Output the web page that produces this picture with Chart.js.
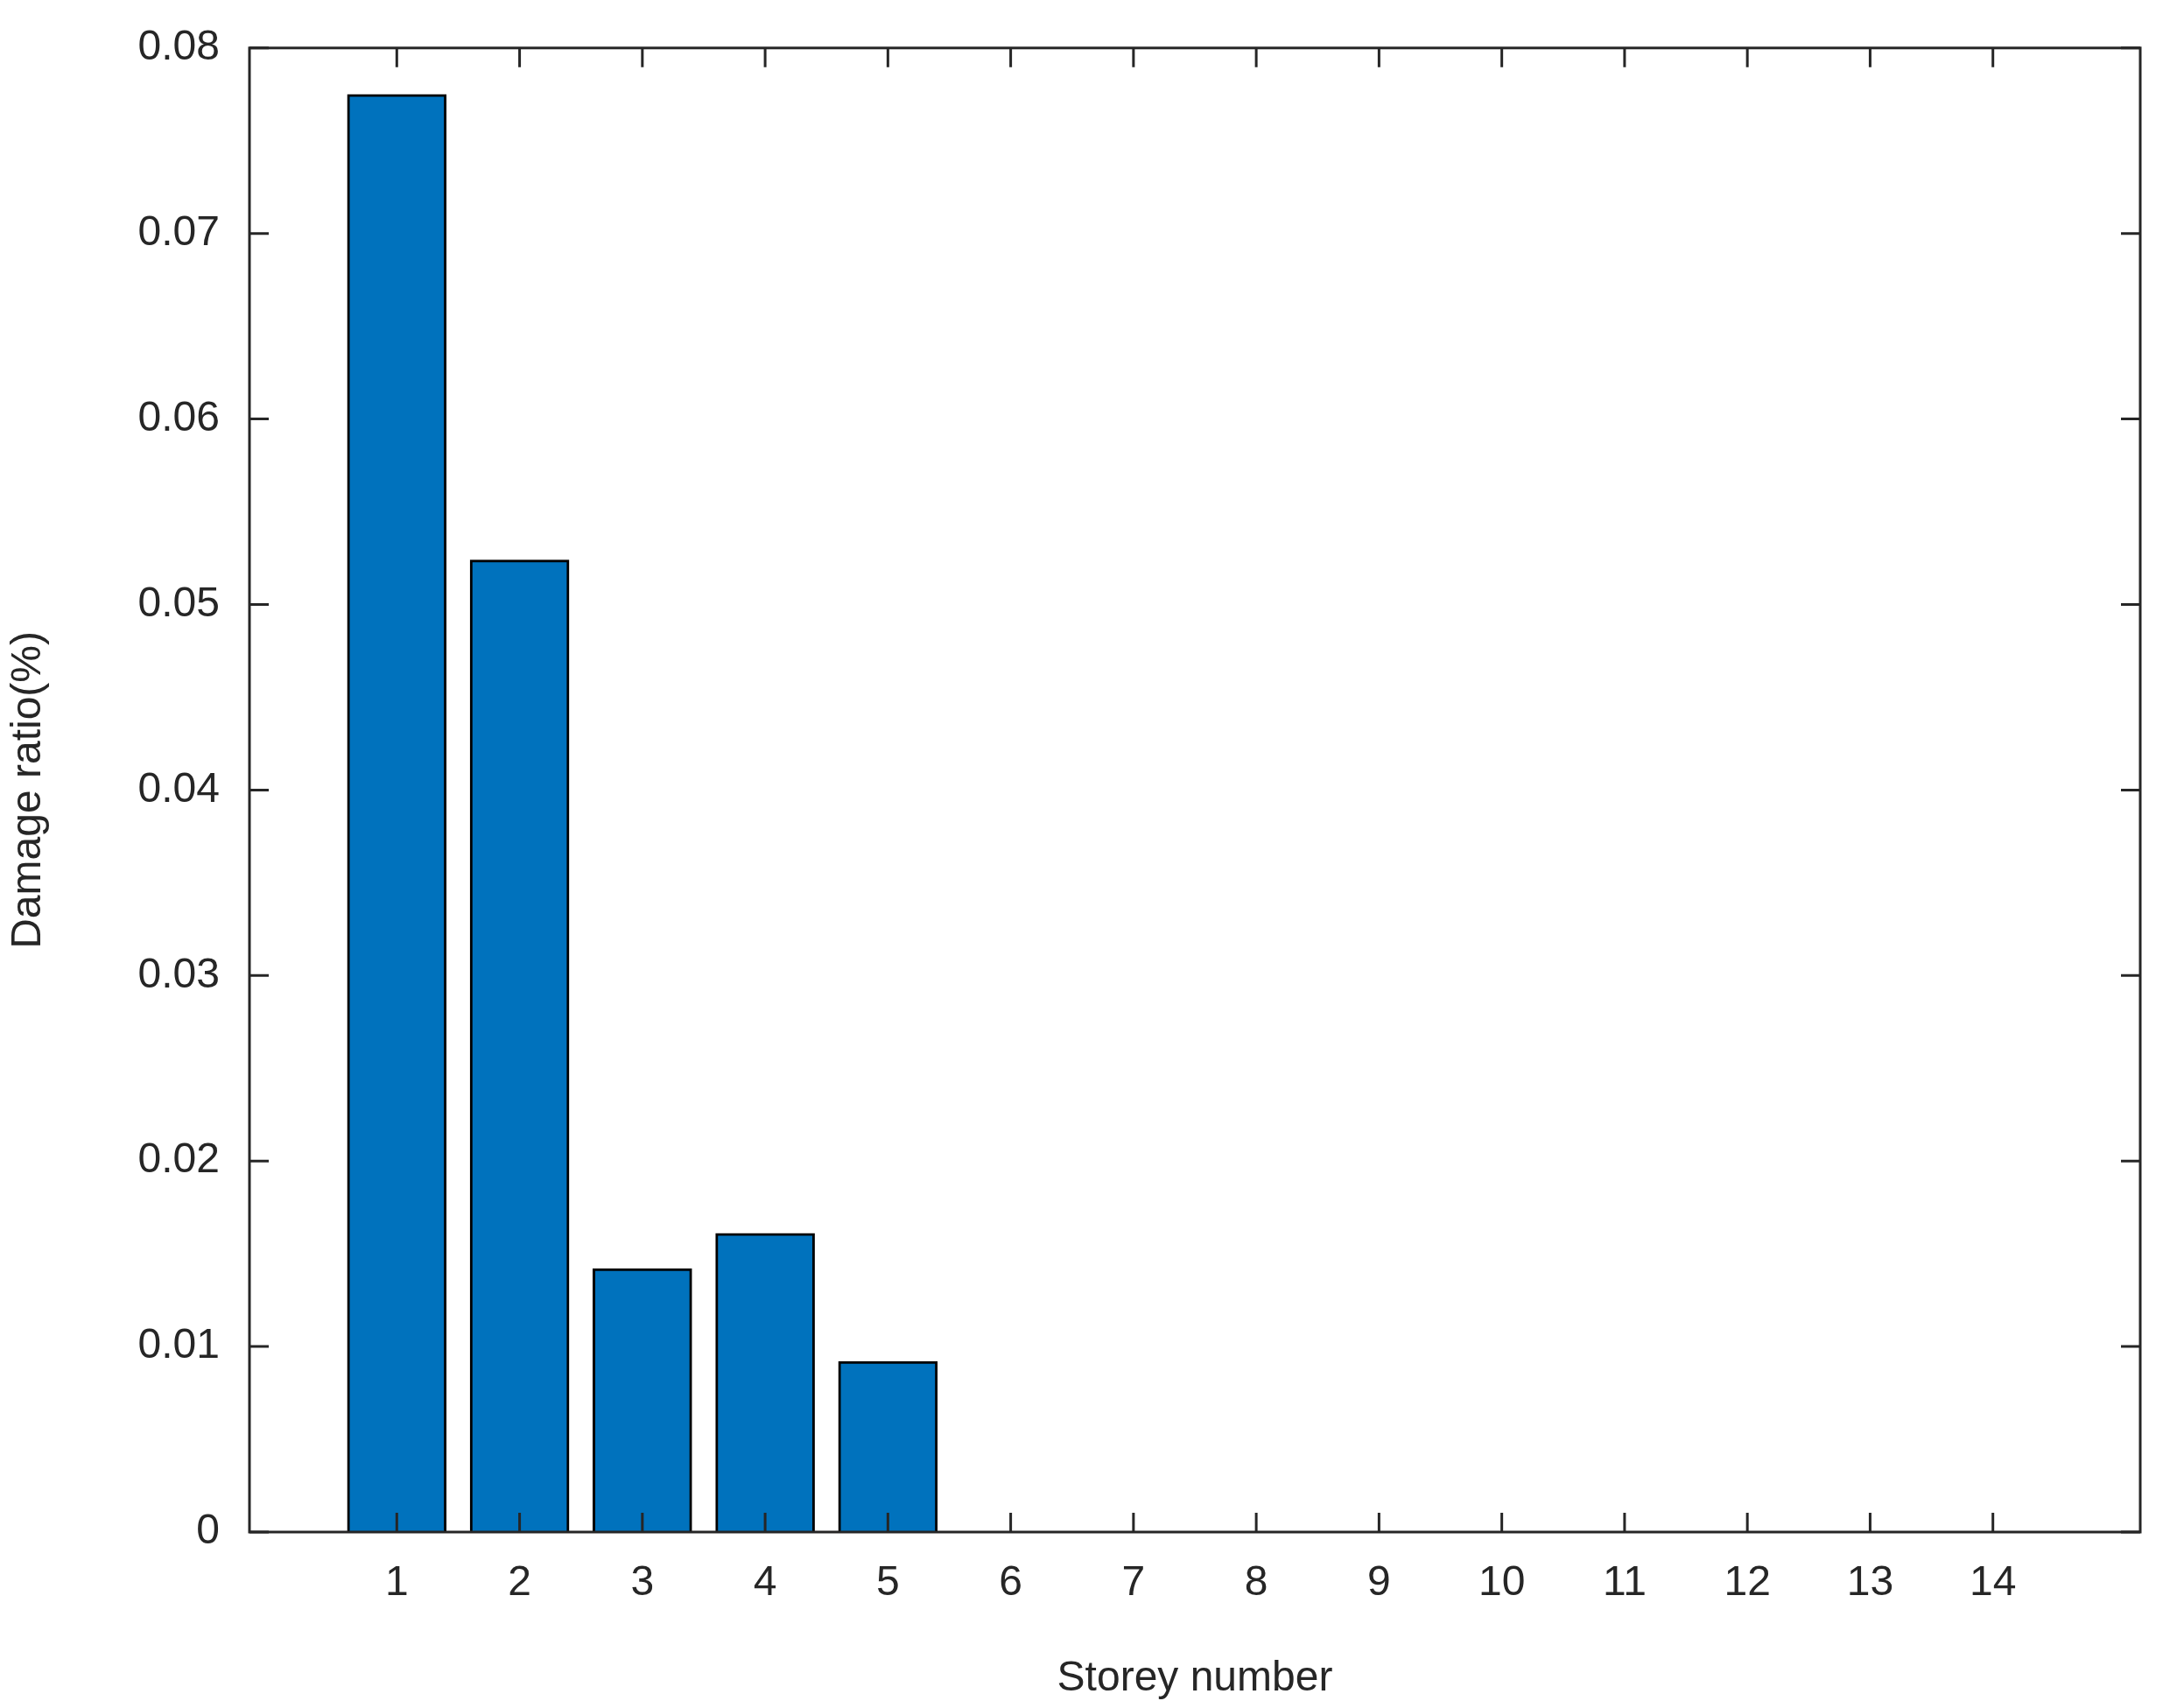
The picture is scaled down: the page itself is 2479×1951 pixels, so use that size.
<!DOCTYPE html>
<html><head><meta charset="utf-8">
<script src="https://cdn.jsdelivr.net/npm/chart.js@4"></script>
<style>html,body{margin:0;background:#fff}#wrap{width:2479px;height:1951px}</style>
</head><body><div id="wrap"><canvas id="myChart"></canvas></div>
<script>
const storeys = [1,2,3,4,5,6,7,8,9,10,11,12,13,14];
const damageRatio = [0.0775,0.0524,0.0142,0.0161,0.0092,0,0,0,0,0,0,0,0,0];
const yTicks = [0,0.01,0.02,0.03,0.04,0.05,0.06,0.07,0.08];

// MATLAB style box with inward ticks on all sides
const boxTicks = {
    id: 'boxTicks',
    afterDraw(chart) {
        const c = chart.ctx, a = chart.chartArea, x = chart.scales.x, y = chart.scales.y;
        c.save();
        c.strokeStyle = '#262626';
        c.lineWidth = 3;
        c.strokeRect(a.left, a.top, a.right - a.left, a.bottom - a.top);
        const len = 22;
        c.beginPath();
        storeys.forEach(s => {
            const px = x.getPixelForValue(s);
            c.moveTo(px, a.bottom); c.lineTo(px, a.bottom - len);
            c.moveTo(px, a.top); c.lineTo(px, a.top + len);
        });
        yTicks.forEach(v => {
            const py = y.getPixelForValue(v);
            c.moveTo(a.left, py); c.lineTo(a.left + len, py);
            c.moveTo(a.right, py); c.lineTo(a.right - len, py);
        });
        c.stroke();
        c.restore();
    }
};

const ctx = document.getElementById('myChart').getContext('2d');
new Chart(ctx, {
    type: 'bar',
    data: {
        datasets: [{
            data: storeys.map((s, i) => ({x: s, y: damageRatio[i]})),
            backgroundColor: '#0072BD',
            borderColor: '#000',
            borderWidth: 3,
            barThickness: 113
        }]
    },
    options: {
        responsive: true,
        maintainAspectRatio: false,
        animation: false,
        layout: {padding: {top: 48, right: 34, left: 0, bottom: 0}},
        plugins: {legend: {display: false}, tooltip: {enabled: false}},
        scales: {
            x: {
                type: 'linear', min: -0.2, max: 15.2, offset: false,
                afterBuildTicks: ax => { ax.ticks = storeys.map(v => ({value: v})); },
                afterFit: ax => { ax.height = 201; },
                grid: {display: false},
                border: {display: false},
                ticks: {color: '#262626', font: {family: 'Liberation Sans', size: 48}, padding: 22, maxRotation: 0},
                title: {display: true, text: 'Storey number', color: '#262626', font: {family: 'Liberation Sans', size: 48}, padding: {top: 10}}
            },
            y: {
                min: 0, max: 0.08,
                afterBuildTicks: ax => { ax.ticks = yTicks.map(v => ({value: v})); },
                afterFit: ax => { ax.width = 285; },
                grid: {display: false},
                border: {display: false},
                ticks: {color: '#262626', font: {family: 'Liberation Sans', size: 48}, padding: 26,
                    callback: v => v === 0 ? '0' : v.toFixed(2)},
                title: {display: true, text: 'Damage ratio(%)', color: '#262626', font: {family: 'Liberation Sans', size: 48}, padding: {bottom: 12}}
            }
        }
    },
    plugins: [boxTicks]
});
</script>
</body></html>
